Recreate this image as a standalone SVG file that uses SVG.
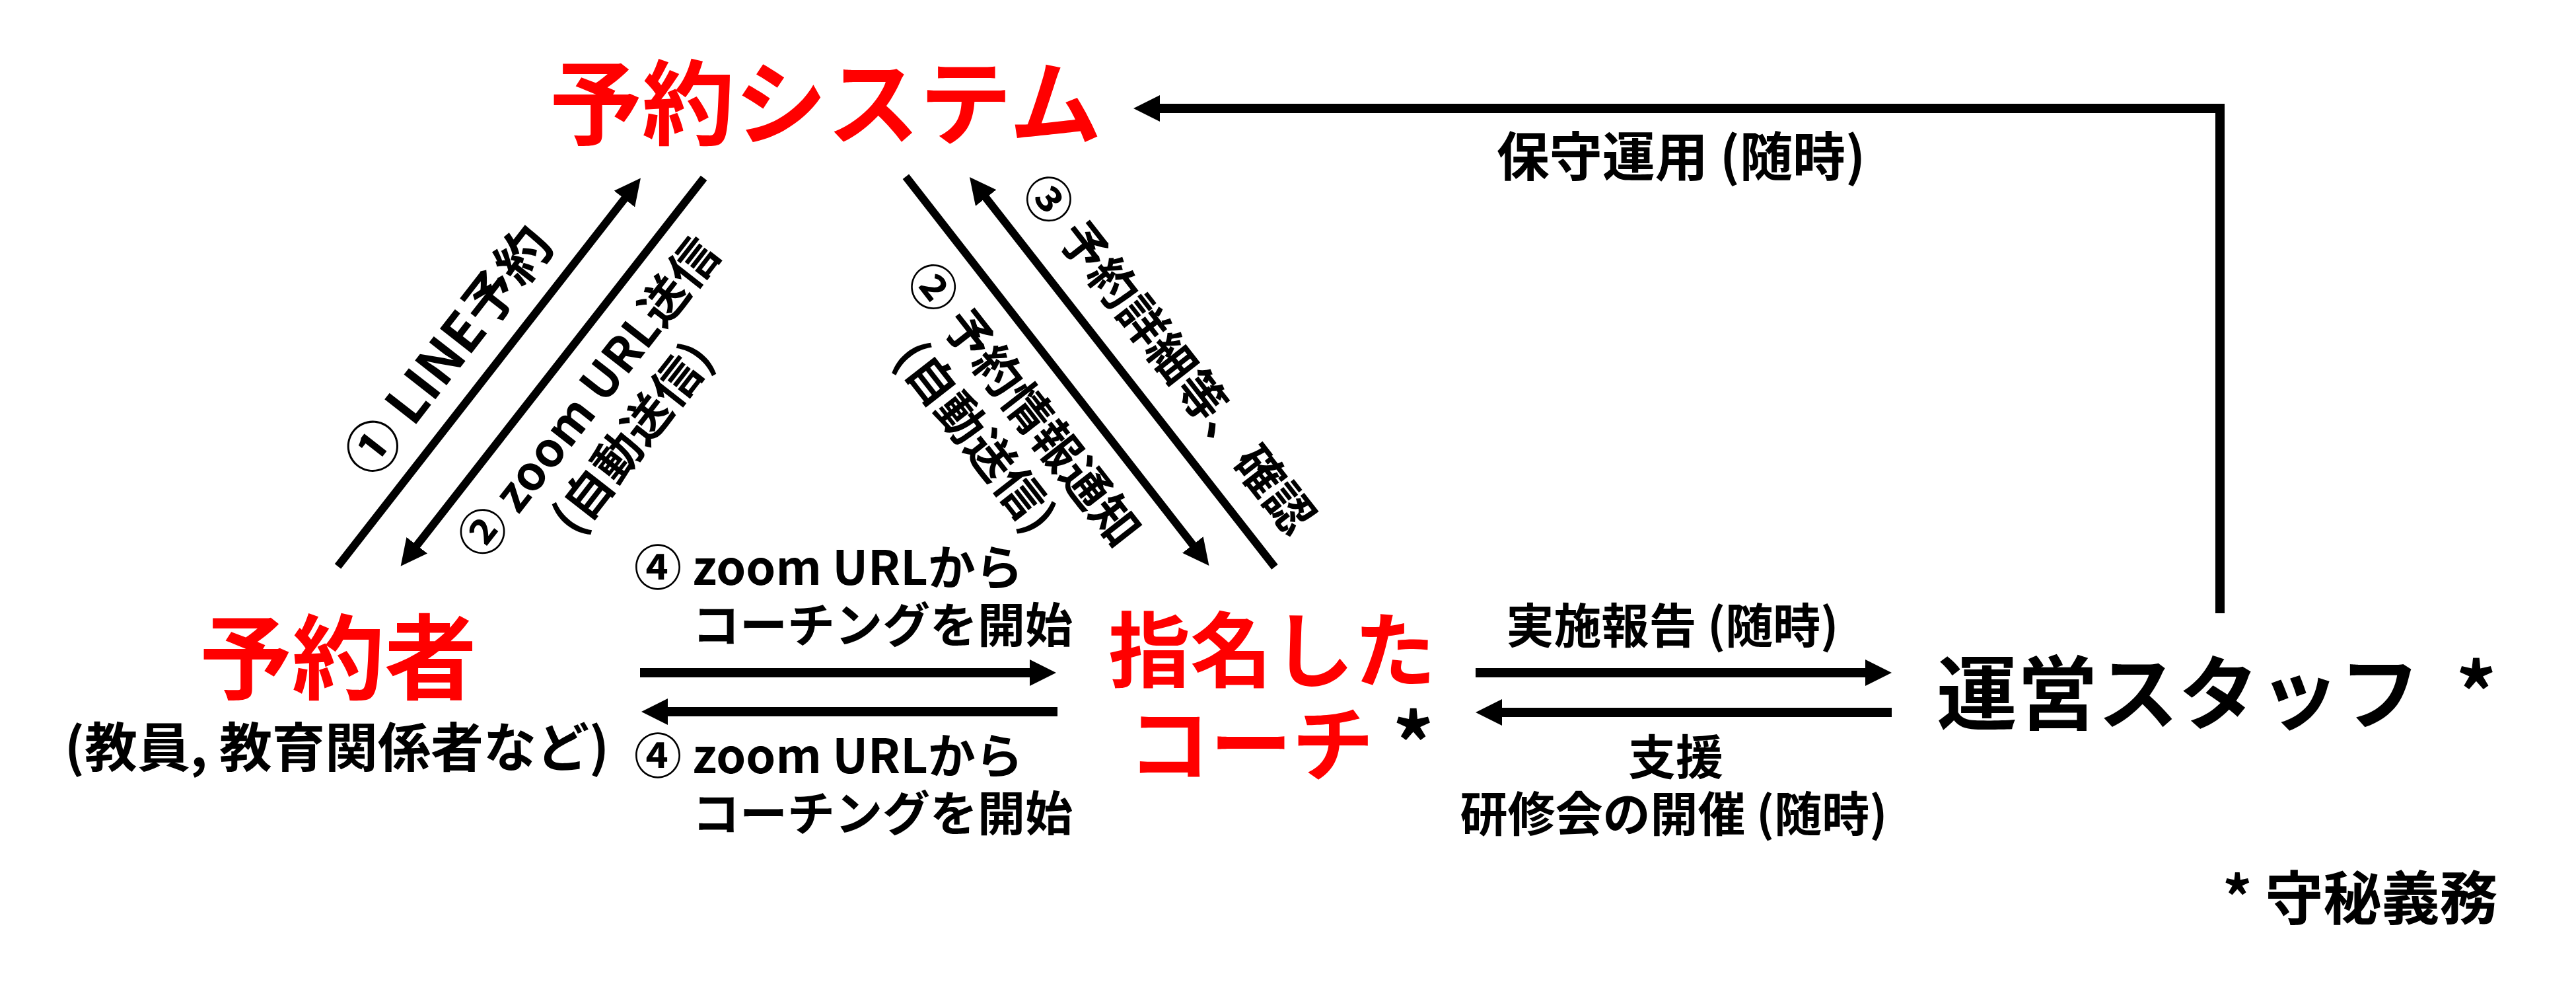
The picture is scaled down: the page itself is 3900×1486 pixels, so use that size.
<svg xmlns="http://www.w3.org/2000/svg" width="3900" height="1486" viewBox="0 0 3900 1486">
<style>
text { font-family: 'Noto Sans CJK JP', 'Noto Sans', sans-serif; font-weight: 700; fill: #000; }
.red { fill: #ff0000; }
.lbl { font-size: 72px; }
.ln { stroke: #000; fill: none; stroke-width: 14; marker-end: url(#ah); }
.dg { stroke-width: 12; }
</style>
<defs>
<marker id="ah" markerUnits="userSpaceOnUse" markerWidth="40" markerHeight="40" refX="4" refY="20" orient="auto">
<path d="M0,0 L40,20 L0,40 Z" fill="#000"/>
</marker>
</defs>
<rect width="3900" height="1486" fill="#fff"/>

<g id="connectors">
<path class="ln" d="M3361,928 V164 H1752" stroke-linejoin="miter"/>
<path class="ln dg" d="M511.5,857 L947.8,297.9"/>
<path class="ln dg" d="M1065.6,269.4 L628.8,828.3"/>
<path class="ln dg" d="M1371.4,267.3 L1808.3,827.5"/>
<path class="ln dg" d="M1929.9,858 L1490.2,296.3"/>
<path class="ln" d="M969,1018 H1563"/>
<path class="ln" d="M1601,1077 H1007"/>
<path class="ln" d="M2234,1018 H2828"/>
<path class="ln" d="M2864,1078 H2270"/>
</g>

<g id="labels">
<text x="2545" y="266" text-anchor="middle" style="font-size:80px">保守運用 (随時)</text>
<g transform="translate(678,530) rotate(-52)">
<text x="0" y="31" text-anchor="middle" style="font-size:82px">① LINE予約</text>
</g>
<g transform="translate(890,601) rotate(-52)">
<text class="lbl" x="0" y="27" text-anchor="middle">② zoom URL送信</text>
<text class="lbl" x="-7" y="117" text-anchor="middle">(自動送信)</text>
</g>
<g transform="translate(1551,611) rotate(52)">
<text class="lbl" x="0" y="27" text-anchor="middle">② 予約情報通知</text>
<text class="lbl" x="-6" y="115" text-anchor="middle">(自動送信)</text>
</g>
<g transform="translate(1770,535) rotate(52)">
<text class="lbl" x="0" y="27" text-anchor="middle">③ 予約詳細等、確認</text>
</g>
<text class="lbl" x="960" y="885">④ zoom URLから</text>
<text class="lbl" x="1048" y="972">コーチングを開始</text>
<text class="lbl" x="960" y="1170">④ zoom URLから</text>
<text class="lbl" x="1048" y="1257">コーチングを開始</text>
<text class="lbl" x="2532" y="973" text-anchor="middle">実施報告 (随時)</text>
<text class="lbl" x="2537" y="1172" text-anchor="middle">支援</text>
<text class="lbl" x="2534" y="1258" text-anchor="middle">研修会の開催 (随時)</text>
</g>

<g id="node-system">
<text class="red" x="1250" y="208" font-size="140" text-anchor="middle">予約システム</text>
</g>
<g id="node-reserver">
<text class="red" x="512" y="1047" font-size="140" text-anchor="middle">予約者</text>
<text x="510" y="1160" font-size="80" text-anchor="middle">(教員, 教育関係者など)</text>
</g>
<g id="node-coach">
<text class="red" x="1926" y="1030" font-size="124" text-anchor="middle">指名した</text>
<text class="red" x="1708" y="1172" font-size="124">コーチ<tspan style="fill:#000"> *</tspan></text>
</g>
<g id="node-staff">
<text x="2932" y="1094" font-size="122">運営スタッフ<tspan x="3718">*</tspan></text>
</g>
<g id="footnote">
<text x="3365" y="1391" font-size="88">* 守秘義務</text>
</g>
</svg>
